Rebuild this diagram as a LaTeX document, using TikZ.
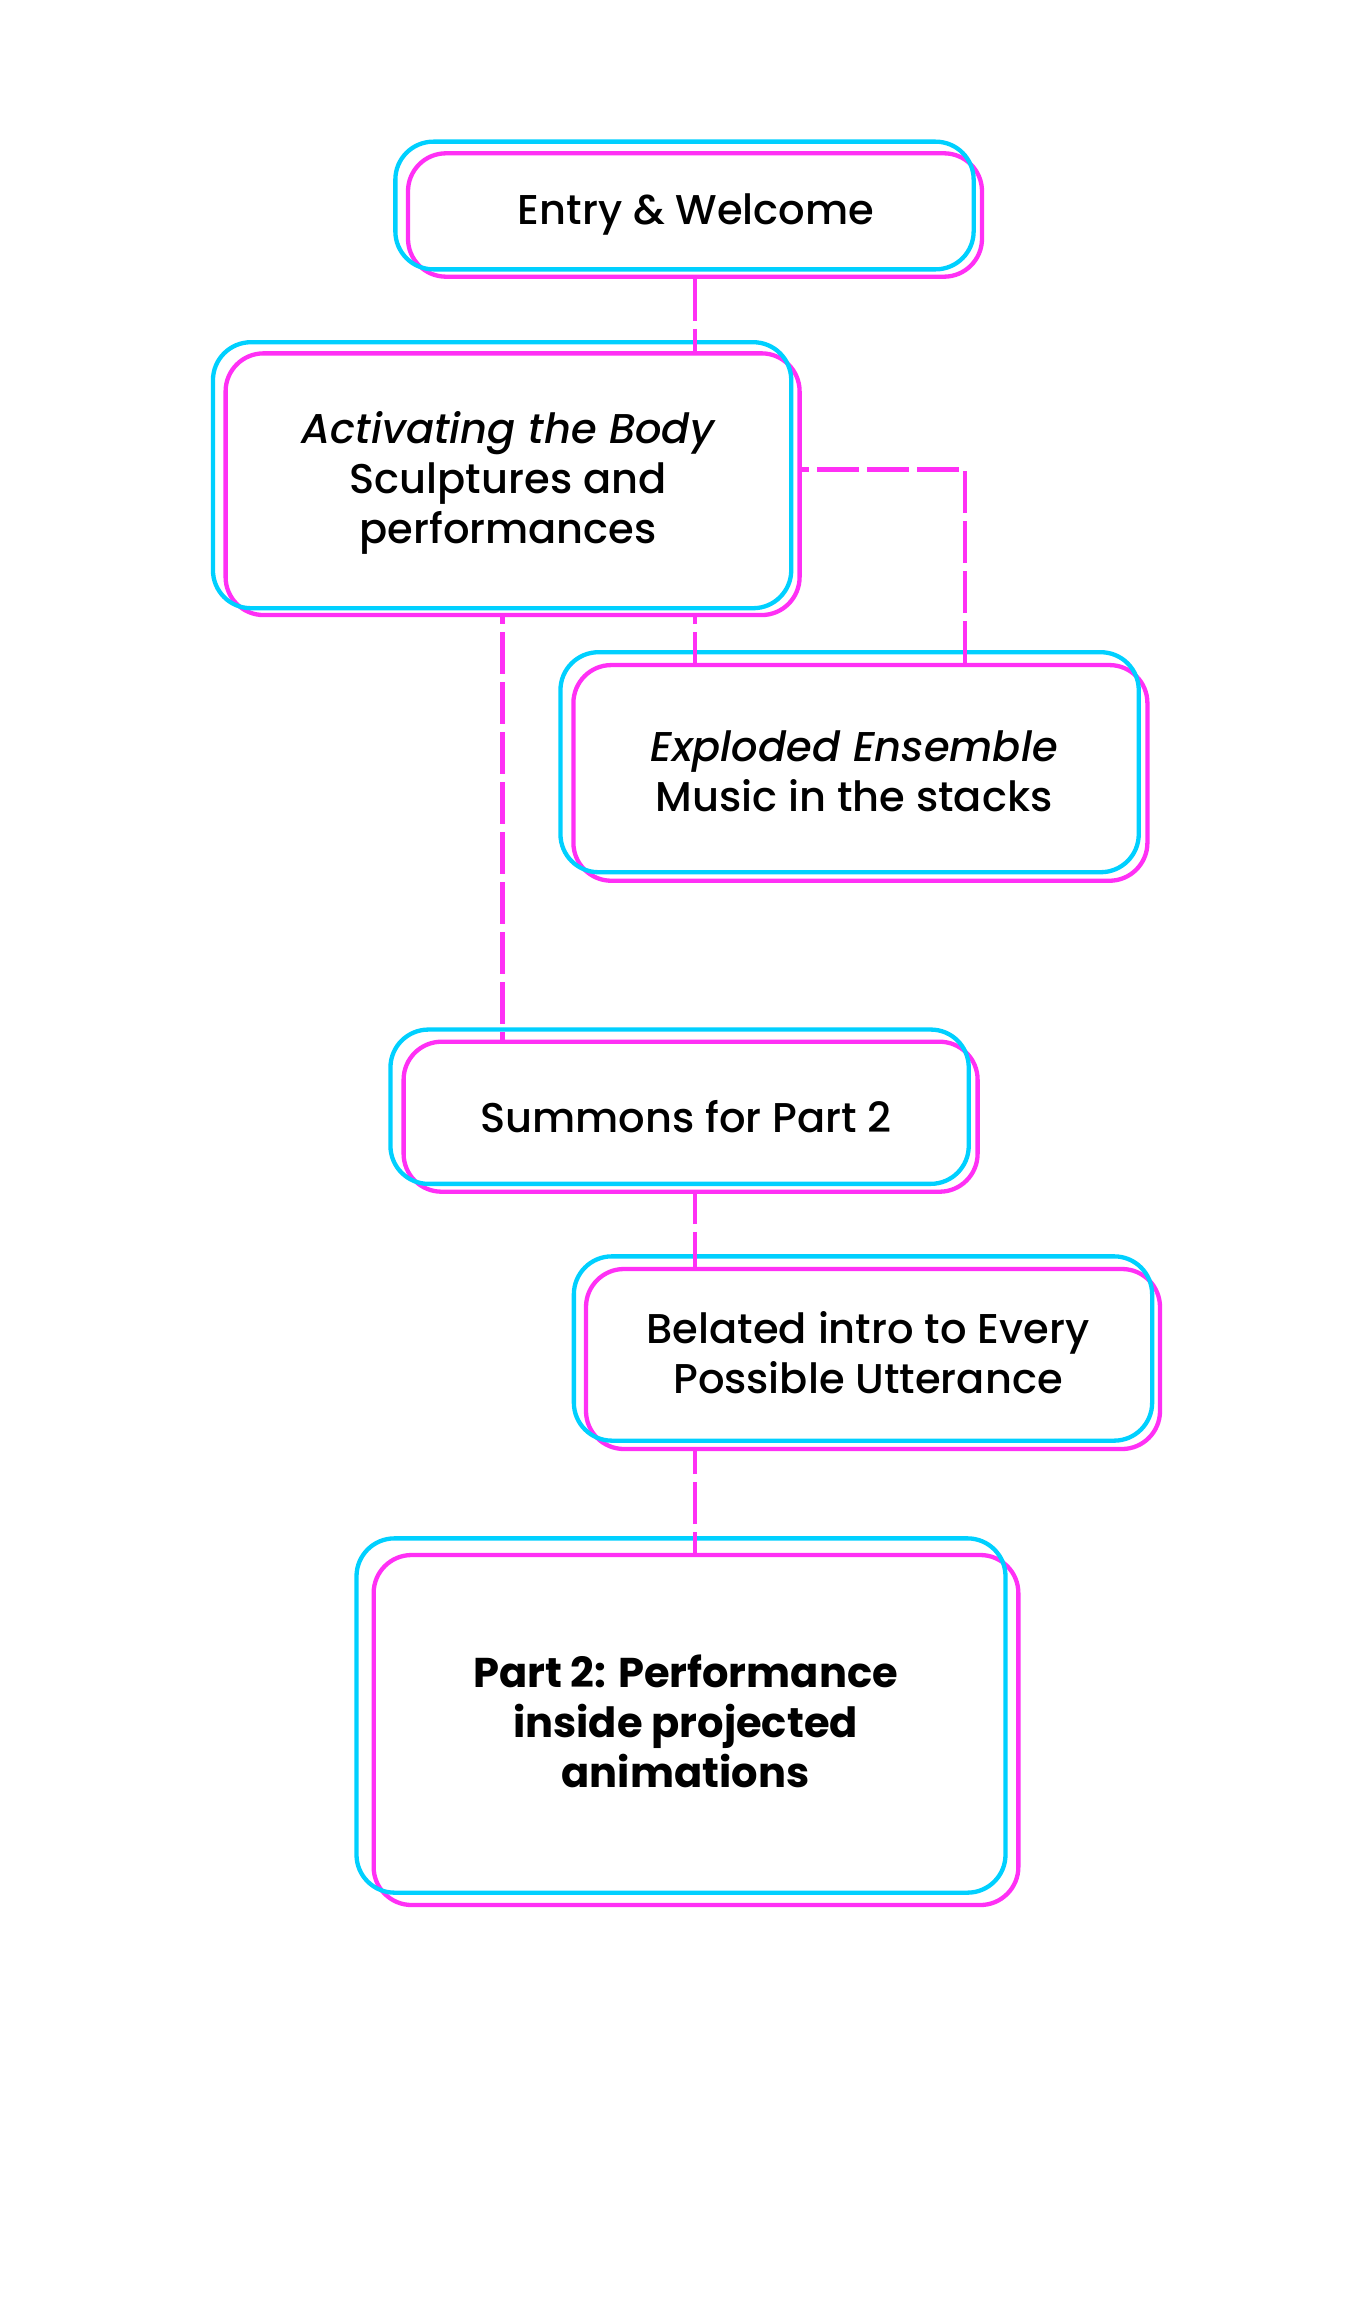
\documentclass[tikz,border=0pt]{standalone}
\usepackage{fontspec}
\setmainfont{Poppins Medium}[ItalicFont={Poppins Medium Italic}, BoldFont={Poppins Bold}]
\usetikzlibrary{calc}
\definecolor{cyanc}{RGB}{0,208,255}
\definecolor{magc}{RGB}{255,48,245}
\begin{document}
\begin{tikzpicture}[x=1pt,y=-1pt,
  mbox/.style={draw=magc, line width=4.3pt, rounded corners=38pt, inner sep=0pt, minimum width=574pt},
  cbox/.style={draw=cyanc, line width=4.3pt, rounded corners=38pt},
  txt/.style={font=\fontsize{41.6}{50}\selectfont, align=center, inner sep=0pt, text=black},
  conn/.style={draw=magc, line width=4.5pt, dash pattern=on 42pt off 8pt}]
\fill[white] (0,0) rectangle (1366,2304);
\useasboundingbox (0,0) rectangle (1366,2304);

% boxes (magenta frames carry the names)
\node[mbox, minimum height=123.4pt,
  label={[txt,xshift=1pt,yshift=1pt]center:Entry \& Welcome}] (b1) at (695,215) {};
\node[mbox, minimum height=261.7pt,
  label={[txt,xshift=-4.5pt,yshift=1.5pt]center:{\itshape Activating the Body}\\Sculptures and\\performances}] (b2) at (512.6,484.2) {};
\node[mbox, minimum height=215.7pt,
  label={[txt,xshift=-6.4pt,yshift=2pt]center:{\itshape Exploded Ensemble}\\Music in the stacks}] (b3) at (860.4,772.9) {};
\node[mbox, minimum height=150pt,
  label={[txt,xshift=-4.6pt,yshift=0.5pt]center:Summons for Part 2}] (b4) at (690.6,1116.7) {};
\node[mbox, minimum height=180pt,
  label={[txt,xshift=-5pt,yshift=6pt]center:Belated intro to Every\\Possible Utterance}] (b5) at (873,1359) {};
\node[mbox, minimum width=644.7pt, minimum height=350pt,
  label={[txt,xshift=-10.5pt,yshift=9pt]center:\bfseries Part 2: Performance\\\bfseries inside projected\\\bfseries animations}] (b6) at (696,1730) {};

% cyan offset frames
\foreach \n/\dx/\dy in {b1/-10.5/-9.5, b2/-10.5/-9, b3/-10.8/-10.7, b4/-11/-10, b5/-10/-10.5, b6/-15/-14.5}
  \draw[cbox] ([shift={(\dx,\dy)}]\n.north west) rectangle ([shift={(\dx,\dy)}]\n.south east);

% connectors
\coordinate (colL) at (502.5,0);
\coordinate (elb) at (965,469.3);
\draw[conn] (b1.south) -- (b2.north -| b1.south);
\draw[conn, dash phase=35pt] (b2.south -| colL) -- (b4.north -| colL);
\draw[conn, dash phase=35pt] (b2.south -| b1.south) -- (b3.north -| b1.south);
\draw[conn] (b3.north -| elb) |- (b2.east |- elb);
\draw[conn, dash phase=12pt] (b4.south -| b1.south) -- (b5.north -| b1.south);
\draw[conn, dash phase=19pt] (b5.south -| b1.south) -- (b6.north -| b1.south);
\end{tikzpicture}
\end{document}
